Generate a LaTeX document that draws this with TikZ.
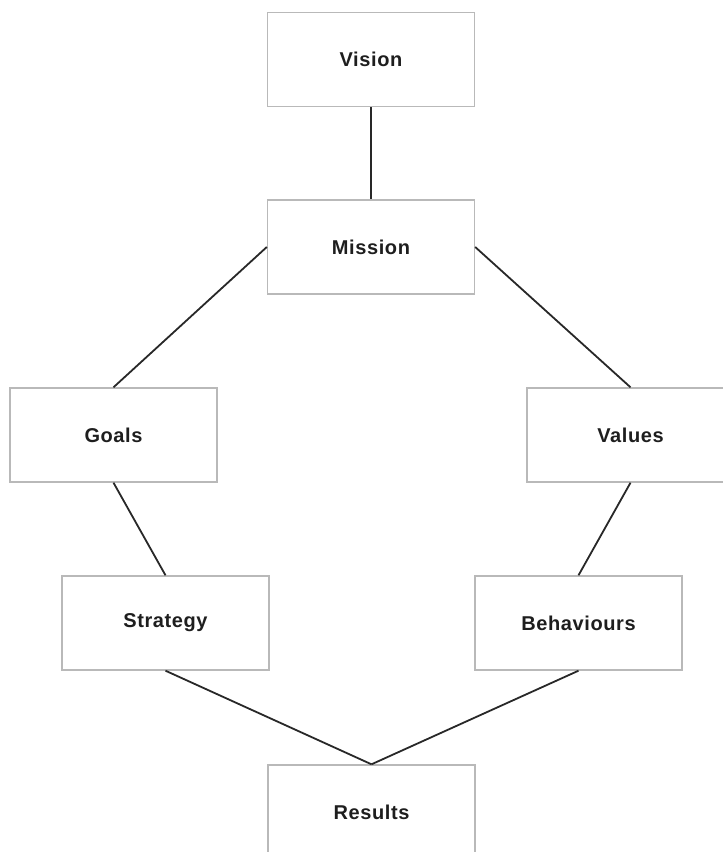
\documentclass[tikz,border=0pt]{standalone}
\usepackage{fontspec}
\setmainfont{Liberation Sans}[LetterSpace=3]
\definecolor{boxgray}{RGB}{185,185,185}
\definecolor{linkgray}{RGB}{40,40,40}
\definecolor{textgray}{RGB}{30,30,30}
\begin{document}
\begin{tikzpicture}[x=1pt,y=-1pt,
  box/.style={draw=boxgray, line width=1.4pt, minimum width=207pt, minimum height=94pt, inner sep=0pt,
    font=\fontsize{20}{23}\selectfont\bfseries, text=textgray},
  link/.style={draw=linkgray, line width=1.8pt}]
\useasboundingbox (0,0) rectangle (723,852);
\clip (0,0) rectangle (723,852);
\node[box] (vision) at (371,59.5) {Vision};
\node[box] (mission) at (371,247) {Mission};
\node[box] (goals) at (113.5,435) {Goals};
\node[box] (values) at (630.5,435) {Values};
\node[box] (strategy) at (165.5,623) {Strategy};
\node[box] (behaviours) at (578.5,623) {Behaviours};
\node[box] (results) at (371.5,812) {Results};
\draw[link] (vision.south) -- (mission.north);
\draw[link] (mission.west) -- (goals.north);
\draw[link] (mission.east) -- (values.north);
\draw[link] (goals.south) -- (strategy.north);
\draw[link] (values.south) -- (behaviours.north);
\draw[link] (strategy.south) -- (results.north);
\draw[link] (behaviours.south) -- (results.north);
\end{tikzpicture}
\end{document}
